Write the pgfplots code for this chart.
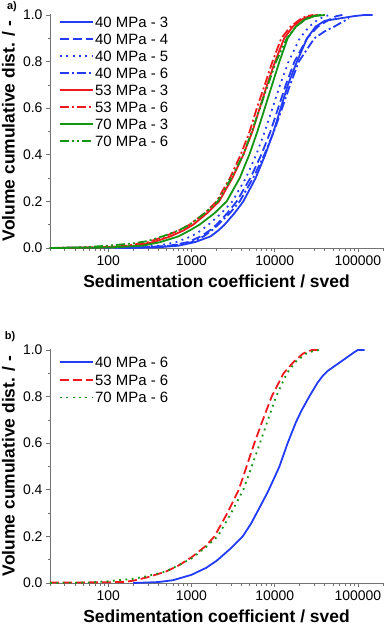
\documentclass[border=0pt]{standalone}
\usepackage{fontspec}
\setmainfont{Liberation Sans}
\usepackage{pgfplots}
\pgfplotsset{compat=1.18}

\definecolor{cblue}{RGB}{35,60,250}
\definecolor{cred}{RGB}{240,25,30}
\definecolor{cgreen}{RGB}{20,150,20}

\tikzset{
  dashedA/.style={dash pattern=on 9bp off 4bp},
  dottedA/.style={dash pattern=on 1.8bp off 4.5bp},
  dashdotA/.style={dash pattern=on 9bp off 3bp on 2bp off 3bp},
  dashdotdotA/.style={dash pattern=on 9bp off 3bp on 2bp off 3bp on 2bp off 3bp},
  curve/.style={line width=1.8bp},
}

% legend swatches built from rules (33bp long, same patterns as the curves)
\newcommand\dsh[1]{\rule[4.6bp]{#1}{1.8bp}}
\newcommand\gp[1]{\hspace*{#1}}
\newcommand\swsolid[1]{\textcolor{#1}{\dsh{33bp}}\gp{2bp}}
\newcommand\swdashed[1]{\textcolor{#1}{\dsh{9bp}\gp{4bp}\dsh{9bp}\gp{4bp}\dsh{7bp}}\gp{2bp}}
\newcommand\swdotted[1]{\textcolor{#1}{\dsh{1.8bp}\gp{4.5bp}\dsh{1.8bp}\gp{4.5bp}\dsh{1.8bp}\gp{4.5bp}%
    \dsh{1.8bp}\gp{4.5bp}\dsh{1.8bp}\gp{4.5bp}\dsh{1.8bp}}\gp{1.7bp}}
\newcommand\swdashdot[1]{\textcolor{#1}{\dsh{9bp}\gp{3bp}\dsh{2bp}\gp{3bp}\dsh{9bp}\gp{3bp}\dsh{2bp}}\gp{4bp}}
\newcommand\swdashdotdot[1]{\textcolor{#1}{\dsh{9bp}\gp{3bp}\dsh{2bp}\gp{3bp}\dsh{2bp}\gp{3bp}\dsh{9bp}}\gp{4bp}}

\pgfplotsset{
  sed axis/.style={
      scale only axis,
      width=333bp,
      height=234.2bp,
      xmin=20,
      xmax=200000,
      ymin=0,
      ymax=1.005,
      axis x line*=bottom,
      axis y line*=left,
      axis line style={-,black!55,line width=0.8bp},
      tick align=outside,
      major tick length=4bp,
      minor tick length=2.5bp,
      tick style={black!55,line width=0.7bp},
      xtick={100,1000,10000,100000},
      xticklabels={100,1000,10000,100000},
      minor xtick={20,30,40,50,60,70,80,90,200,300,400,500,600,700,800,900,
          2000,3000,4000,5000,6000,7000,8000,9000,
          20000,30000,40000,50000,60000,70000,80000,90000,200000},
      ytick={0,0.2,0.4,0.6,0.8,1.0},
      minor ytick={0.1,0.3,0.5,0.7,0.9},
      yticklabel style={/pgf/number format/fixed,/pgf/number format/fixed zerofill,/pgf/number format/precision=1},
      /pgf/number format/assume math mode=true,
      tick label style={font=\fontsize{14}{16}\selectfont,black},
      label style={font=\bfseries\fontsize{17.5}{20}\selectfont},
      xlabel={Sedimentation coefficient / sved},
      ylabel={Volume cumulative dist. / -},
      x label style={at={(axis description cs:0.5,-0.143)},anchor=center},
      y label style={at={(axis description cs:-0.125,0.5)},anchor=center},
      clip=false,
    },
}

\begin{document}
\begin{tikzpicture}
  \path[use as bounding box] (-50bp,-378bp) rectangle (335bp,248bp);

  % ------------------------------------------------------------------
  % a) all runs
  % ------------------------------------------------------------------
  \begin{axis}[
      xmode=log,
      sed axis,
      name=pa,
      at={(0bp,0bp)},
      anchor=south west,
    ]

    % 40 MPa - 3
    \addplot[curve,cblue,solid] coordinates {
        (150,0) (400,0.003) (700,0.01) (1100,0.025) (1700,0.05) (2100,0.075)
        (2500,0.1) (3300,0.15) (4200,0.2) (5900,0.3) (7700,0.4) (9700,0.5)
        (11800,0.6) (14400,0.7) (18500,0.8) (24500,0.9) (31000,0.95)
        (40000,0.975) (60000,0.985) (90000,0.995) (120000,1.0) (150000,1.0)
      };

    % 40 MPa - 4
    \addplot[curve,cblue,dashedA] coordinates {
        (20,0) (250,0.002) (550,0.01) (900,0.025) (1300,0.05) (1650,0.075)
        (2000,0.1) (2700,0.15) (3500,0.2) (5100,0.3) (6900,0.4) (8900,0.5)
        (11000,0.6) (13600,0.7) (17300,0.8) (24500,0.9) (33000,0.95)
        (45000,0.98) (55000,0.995) (65000,1.0)
      };

    % 40 MPa - 5
    \addplot[curve,cblue,dottedA] coordinates {
        (20,0) (150,0.002) (400,0.01) (650,0.025) (1000,0.05) (1300,0.075)
        (1600,0.1) (2300,0.15) (3100,0.2) (4500,0.3) (6000,0.4) (7600,0.5)
        (9400,0.6) (11600,0.7) (14700,0.8) (20000,0.9) (26000,0.95)
        (33000,0.98) (40000,0.995) (47000,1.0)
      };

    % 40 MPa - 6
    \addplot[curve,cblue,dashdotA] coordinates {
        (20,0) (300,0.003) (600,0.01) (1000,0.025) (1400,0.05) (1750,0.075)
        (2100,0.1) (2900,0.15) (3800,0.2) (5500,0.3) (7500,0.4) (9800,0.5)
        (12300,0.6) (15300,0.7) (19500,0.8) (30000,0.9) (40000,0.93)
        (52000,0.95) (65000,0.97) (78000,0.985)
      };

    % 53 MPa - 3
    \addplot[curve,cred,solid] coordinates {
        (20,0) (100,0.003) (220,0.01) (350,0.025) (560,0.05) (800,0.075)
        (1050,0.1) (1550,0.15) (2150,0.2) (3100,0.3) (4200,0.4) (5400,0.5)
        (6600,0.6) (8100,0.7) (10100,0.8) (13000,0.9) (16500,0.95)
        (21000,0.98) (26000,0.995) (33000,1.0)
      };

    % 53 MPa - 6
    \addplot[curve,cred,dashdotA] coordinates {
        (20,0) (60,0.002) (100,0.004) (170,0.01) (300,0.025) (480,0.05)
        (700,0.075) (950,0.1) (1450,0.15) (2000,0.2) (2900,0.3) (3900,0.4)
        (5000,0.5) (6100,0.6) (7600,0.7) (9400,0.8) (12000,0.9) (15500,0.95)
        (20000,0.98) (24000,0.995) (29000,1.0)
      };

    % 70 MPa - 3
    \addplot[curve,cgreen,solid] coordinates {
        (20,0) (100,0.002) (260,0.01) (420,0.025) (700,0.05) (950,0.075)
        (1250,0.1) (1900,0.15) (2650,0.2) (3800,0.3) (4950,0.4) (6200,0.5)
        (7600,0.6) (9300,0.7) (11400,0.8) (14300,0.9) (18000,0.95)
        (23000,0.98) (30000,0.995) (40000,1.0)
      };

    % 70 MPa - 6
    \addplot[curve,cgreen,dashdotdotA] coordinates {
        (20,0) (50,0.003) (100,0.01) (200,0.02) (300,0.03) (450,0.05)
        (700,0.075) (950,0.1) (1450,0.15) (2070,0.2) (3000,0.3) (4200,0.4)
        (5300,0.5) (6650,0.6) (8300,0.7) (10400,0.8) (14000,0.9) (18000,0.95)
        (24000,0.985) (30000,0.997) (36000,1.0)
      };

    % legend
    \node[anchor=north west,inner sep=0pt,font=\fontsize{15}{17.1}\selectfont]
      at (rel axis cs:0.03,0.9936) {%
        \begin{tabular}{@{}l@{}}
          \swsolid{cblue}40 MPa - 3\\
          \swdashed{cblue}40 MPa - 4\\
          \swdotted{cblue}40 MPa - 5\\
          \swdashdot{cblue}40 MPa - 6\\
          \swsolid{cred}53 MPa - 3\\
          \swdashdot{cred}53 MPa - 6\\
          \swsolid{cgreen}70 MPa - 3\\
          \swdashdotdot{cgreen}70 MPa - 6
        \end{tabular}};
  \end{axis}
  \node[font=\bfseries\fontsize{11}{13}\selectfont] at ([xshift=-38bp,yshift=7.5bp]pa.north west) {a)};

  % ------------------------------------------------------------------
  % b) 6 passes
  % ------------------------------------------------------------------
  \begin{axis}[
      xmode=log,
      sed axis,
      name=pb,
      at={(0bp,-335bp)},
      anchor=south west,
    ]

    % 40 MPa - 6
    \addplot[curve,cblue,solid] coordinates {
        (200,0) (400,0.004) (600,0.012) (1000,0.035) (1500,0.065) (2000,0.095)
        (3000,0.15) (4130,0.2) (5200,0.255) (6500,0.32) (8240,0.39)
        (10000,0.455) (11400,0.5) (14300,0.6) (18000,0.69) (21000,0.74)
        (26000,0.8) (32800,0.86) (38000,0.89) (43300,0.91) (52000,0.93)
        (62500,0.95) (75000,0.97) (90000,0.99) (100000,1.0) (120000,1.0)
      };

    % 53 MPa - 6
    \addplot[curve,cred,dashedA] coordinates {
        (20,0.002) (100,0.003) (160,0.005) (200,0.01) (300,0.025) (500,0.05)
        (700,0.075) (1000,0.11) (1500,0.16) (1890,0.2) (2700,0.3) (3700,0.4)
        (4600,0.5) (5700,0.6) (7200,0.7) (9200,0.8) (12800,0.9) (17000,0.95)
        (22000,0.985) (28000,1.0) (34000,1.0)
      };

    % 70 MPa - 6
    \addplot[curve,cgreen,dottedA] coordinates {
        (20,0) (60,0.002) (100,0.008) (200,0.018) (300,0.03) (500,0.05)
        (1000,0.105) (1500,0.155) (2070,0.2) (3000,0.3) (4200,0.4) (5300,0.5)
        (6650,0.6) (8300,0.7) (10400,0.8) (14000,0.9) (18000,0.95)
        (24000,0.985) (30000,0.997) (36000,1.0)
      };

    % legend
    \node[anchor=north west,inner sep=0pt,font=\fontsize{15}{17.8}\selectfont]
      at (rel axis cs:0.03,0.974) {%
        \begin{tabular}{@{}l@{}}
          \swsolid{cblue}40 MPa - 6\\
          \swdashed{cred}53 MPa - 6\\
          \swdotted{cgreen}70 MPa - 6
        \end{tabular}};
  \end{axis}
  \node[font=\bfseries\fontsize{11}{13}\selectfont] at ([xshift=-40bp,yshift=12bp]pb.north west) {b)};
\end{tikzpicture}
\end{document}
